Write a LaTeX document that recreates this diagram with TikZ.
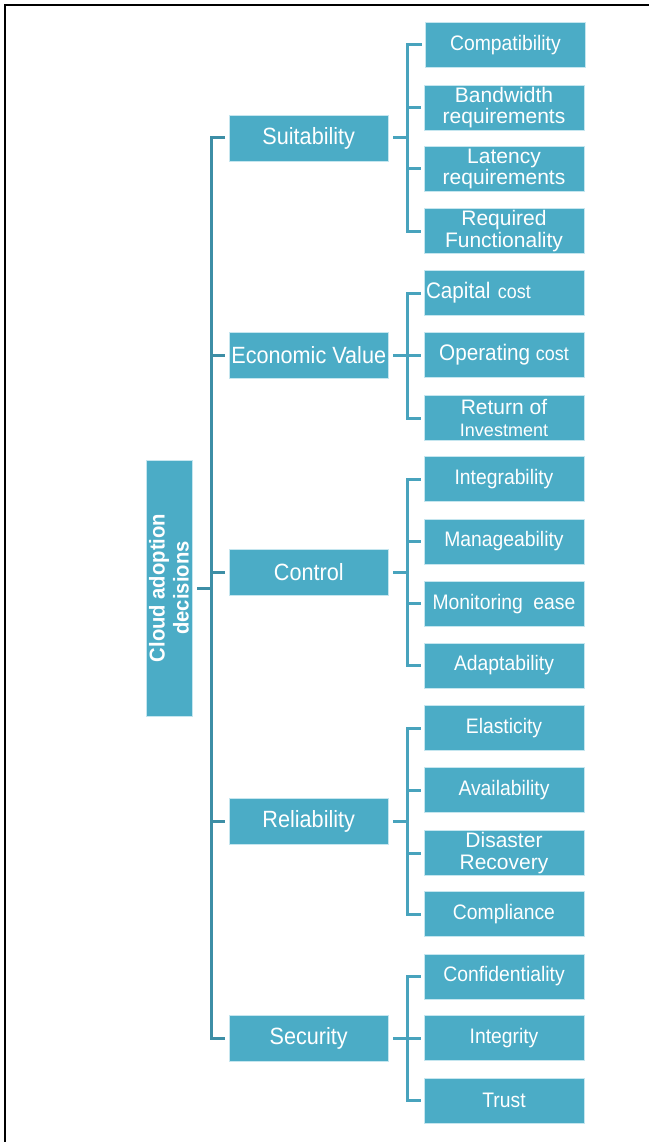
\documentclass[tikz,border=0pt]{standalone}
\usepackage{fontspec}
\setmainfont{Liberation Sans}
\newfontfamily\cnd{Liberation Sans}[FakeStretch=0.92]
\newfontfamily\cndb{Liberation Sans Bold}[FakeStretch=0.94]
\definecolor{boxfill}{HTML}{4BACC6}
\definecolor{boxline}{HTML}{C5E6EF}
\definecolor{trunkc}{HTML}{3D8EA6}
\definecolor{brackc}{HTML}{48A3BD}
\newcommand{\smf}[1]{{\fontsize{18}{20}\selectfont #1}}
\newcommand{\smg}[1]{{\fontsize{19.5}{21}\selectfont #1}}
\begin{document}
\begin{tikzpicture}[x=1pt,y=-1pt,
 box/.style={draw=boxline, line width=0.8pt, fill=boxfill, text=white, inner sep=0pt, align=center},
 leaf/.style={box, minimum width=160pt, minimum height=45pt, font=\cnd\fontsize{21}{22}\selectfont},
 leaftwo/.style={box, minimum width=160pt, minimum height=45pt, font=\fontsize{21}{21.5}\selectfont},
 mid/.style={box, minimum width=158.5pt, minimum height=46pt, font=\cnd\fontsize{23.5}{24}\selectfont},
 rootbox/.style={box, rotate=90, minimum width=256pt, minimum height=46pt, font=\cndb\fontsize{21.5}{24}\selectfont},
 trunk/.style={draw=trunkc, line width=3pt},
 brack/.style={draw=brackc, line width=3pt},
 frame/.style={draw=black, line width=2.2pt}]
\useasboundingbox (0,0) rectangle (649,1142);
\draw[frame] (5,1142) -- (5,5) -- (649,5);

% root
\node[rootbox] (root) at (169,588) {Cloud adoption\\decisions};

% level 1
\node[mid] (suit) at (308.75,138) {Suitability};
\node[mid] (econ) at (308.75,355) {Economic Value};
\node[mid] (ctrl) at (308.75,572.5) {Control};
\node[mid] (reli) at (308.75,821) {Reliability};
\node[mid] (secu) at (308.75,1038) {Security};

% leaves
\node[leaf] (compat) at (505.5,44.7) {Compatibility};
\node[leaftwo] (bandw) at (504,107.5) {Bandwidth\\requirements};
\node[leaftwo] (laten) at (504,169) {Latency\\requirements};
\node[leaftwo] (reqf) at (504,231) {Required\\Functionality};
\node[leaf, text width=156pt, align=left, font=\cnd\fontsize{22.5}{24}\selectfont] (capit) at (504,293) {Capital \smg{cost}};
\node[leaf, font=\cnd\fontsize{22.5}{24}\selectfont] (operc) at (504,355) {Operating \smg{cost}};
\node[leaftwo] (retinv) at (504,418) {Return of\\\smf{Investment}};
\node[leaf] (integb) at (504,479) {Integrability};
\node[leaf] (manag) at (504,541.5) {Manageability};
\node[leaf] (monit) at (504,603.7) {Monitoring\ \ ease};
\node[leaf] (adapt) at (504,665.5) {Adaptability};
\node[leaf] (elast) at (504,728) {Elasticity};
\node[leaf] (avail) at (504,790) {Availability};
\node[leaftwo] (disas) at (504,853) {Disaster\\Recovery};
\node[leaf] (compl) at (504,914) {Compliance};
\node[leaf] (confi) at (504,976.5) {Confidentiality};
\node[leaf] (integy) at (504,1038.3) {Integrity};
\node[leaf] (trust) at (504,1100.5) {Trust};

\coordinate (tx) at (211,0);
\coordinate (bx) at (407,0);

% trunk
\draw[trunk] ([xshift=5]root.south) -- (root.south -| tx);
\draw[trunk] ([xshift=-4]suit.west) -- (suit.west -| tx) -- (secu.west -| tx) -- ([xshift=-4]secu.west);
\foreach \n in {econ,ctrl,reli}
  \draw[trunk] (\n.west -| tx) -- ([xshift=-4]\n.west);

% brackets
\foreach \p/\a/\z/\ms in {suit/compat/reqf/{bandw,laten}, econ/capit/retinv/{operc}, ctrl/integb/adapt/{manag,monit}, reli/elast/compl/{avail,disas}, secu/confi/trust/{integy}}{
  \draw[brack] ([xshift=5]\p.east) -- (\p.east -| bx);
  \draw[brack] ([xshift=-3]\a.west) -- (\a.west -| bx) -- (\z.west -| bx) -- ([xshift=-3]\z.west);
  \foreach \m in \ms
    \draw[brack] (\m.west -| bx) -- ([xshift=-3]\m.west);
}
\end{tikzpicture}
\end{document}
